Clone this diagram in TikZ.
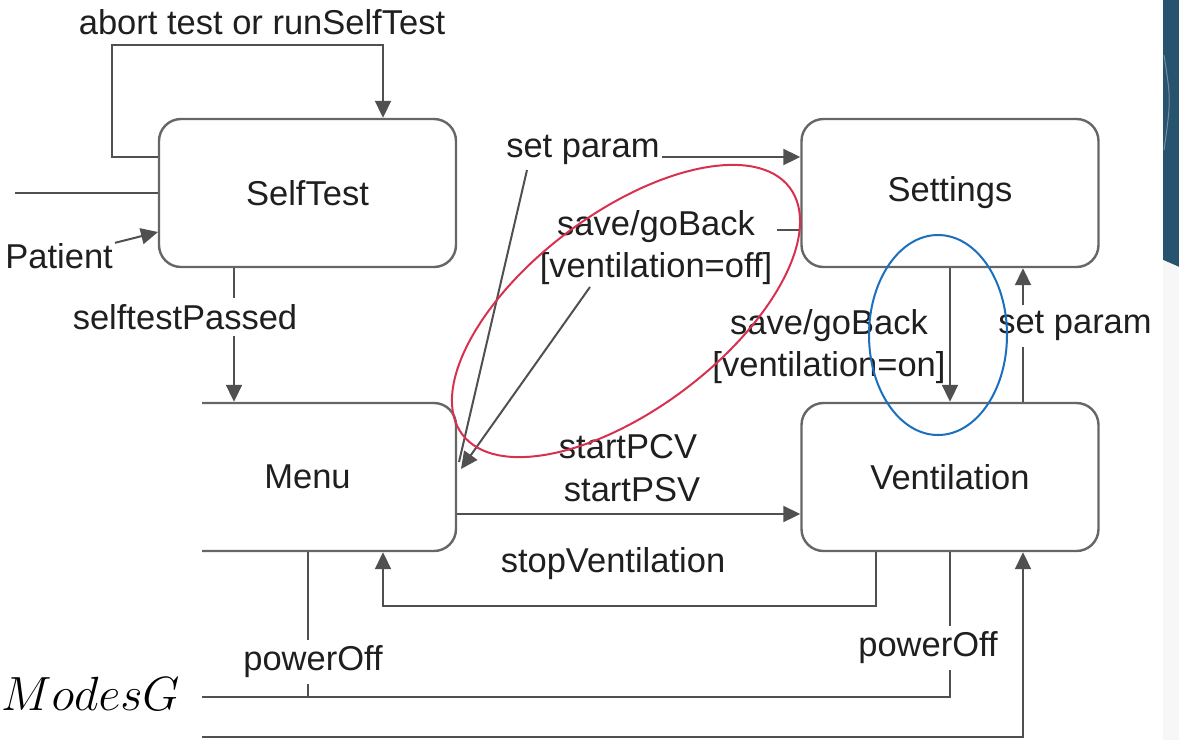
\RequirePackage{fix-cm}
\documentclass[tikz,border=0pt]{standalone}
\usepackage{fontspec}
\setmainfont{Liberation Sans}
\usetikzlibrary{arrows.meta,calc}
\definecolor{ink}{HTML}{1F1F1F}
\definecolor{edge}{HTML}{505050}
\definecolor{boxline}{HTML}{666666}
\definecolor{redring}{HTML}{D8314F}
\definecolor{bluering}{HTML}{1A6FBE}
\definecolor{slide}{HTML}{27536F}
\definecolor{slidegray}{HTML}{F7F7F7}
\begin{document}
\begin{tikzpicture}[x=1pt,y=-1pt,
  state/.style={draw=boxline,line width=2.4pt,fill=white,rounded corners=22pt,
    minimum width=297pt,minimum height=148pt,
    font=\fontsize{34.5}{42}\selectfont,text=ink},
  lbl/.style={font=\fontsize{34.5}{42}\selectfont,text=ink,inner xsep=3pt,inner ysep=6pt,align=center},
  wire/.style={draw=edge,line width=2pt},
  flow/.style={wire,-{Triangle[length=17pt,width=16pt]}},
]
\useasboundingbox (0,0) rectangle (1179,740);
\clip (0,0) rectangle (1179,740);

% slide decoration at the right edge
\fill[slide] (1163,0) -- (1179,0) -- (1179,267) -- (1163,260) -- cycle;
\fill[slidegray] (1163,260) -- (1179,267) -- (1179,740) -- (1163,740) -- cycle;
\draw[white,opacity=0.35,line width=1pt] (1164,55) .. controls (1171,100) .. (1164,150);

% states
\node[state] (selftest) at (307.5,193) {SelfTest};
\node[state] (settings) at (950,193) {Settings};
\node[state] (vent) at (950,477) {Ventilation};
\begin{scope}
  \clip (202,380) rectangle (600,600);
  \node[state] (menu) at (307.5,477) {Menu};
\end{scope}

% self loop on SelfTest
\coordinate (loopL) at (112,157);
\coordinate (loopR) at (383,45);
\draw[flow] (selftest.west |- loopL) -- (loopL) |- (loopR) -- (loopR |- selftest.north);
\node[lbl] (abortlbl) at (262,22) {abort test or runSelfTest};

% incoming lines on the left
\coordinate (entry) at (15,193);
\draw[wire] (entry) -- (selftest.west);
\node[lbl,anchor=base east,inner sep=0pt] (patient) at (113,268) {Patient};
\coordinate (patIn) at (158,232);
\draw[flow] ($(patient.north east)+(2,0)$) -- (patIn);

% SelfTest -> Menu
\coordinate (spx) at (234,0);
\draw[flow] (selftest.south -| spx) -- (menu.north -| spx);
\node[lbl,fill=white] (passlbl) at (185,317) {selftestPassed};

% Menu -> Settings
\node[lbl] (setp1) at (583,150) {set param};
\coordinate (menuSP) at (459,462);
\coordinate (spA) at (527,170);
\coordinate (spB) at (662,157);
\draw[wire] (menuSP) -- (spA);
\draw[flow] (spB) -- (settings.west |- spB);

% Settings -> Menu
\node[lbl] (sgboff) at (656,248) {save/goBack\\{}[ventilation=off]};
\coordinate (offStub) at (777,230);
\coordinate (offA) at (590,287);
\coordinate (menuIn) at (461,469);
\draw[wire] (settings.west |- offStub) -- (offStub);
\draw[flow] (offA) -- (menuIn);

% Menu -> Ventilation
\coordinate (py) at (0,514);
\draw[flow] (menu.east |- py) -- (vent.west |- py);
\node[lbl] (pcv) at (628,447) {startPCV};
\node[lbl] (psv) at (632,490) {startPSV};

% Ventilation -> Menu
\coordinate (svA) at (876,606);
\coordinate (svB) at (383,606);
\draw[flow] (vent.south -| svA) -- (svA) -- (svB) -- (menu.south -| svB);
\node[lbl] (stoplbl) at (613,564) {stopVentilation};

% Settings -> Ventilation
\draw[flow] (settings.south) -- (vent.north);
\node[lbl] (sgbon) at (829,347) {save/goBack\\{}[ventilation=on]};

% Ventilation -> Settings
\coordinate (rx) at (1023,0);
\draw[flow] (vent.north -| rx) -- (settings.south -| rx);
\node[lbl,fill=white] (setp2) at (1075,326) {set param};

% powerOff transitions
\coordinate (mpx) at (308,0);
\coordinate (botA) at (202,697);
\coordinate (vpx) at (950,697);
\draw[wire] (menu.south -| mpx) -- (mpx |- botA);
\draw[wire] (botA) -- (vpx) -- (vent.south);
\node[lbl,fill=white] (po1) at (313,662) {powerOff};
\node[lbl,fill=white] (po2) at (928,648) {powerOff};

% entry into Ventilation from below
\coordinate (botB) at (202,737);
\coordinate (bx) at (1023,737);
\draw[flow] (botB) -- (bx) -- (vent.south -| bx);

% group name
\node[font=\fontsize{48}{48}\selectfont,anchor=base west,inner sep=0pt,text=black] (modes) at (1,710) {$ModesG$};

% highlight rings
\draw[redring,line width=2pt,rotate around={37:(626,311)}] (626,311) ellipse [x radius=205pt,y radius=98pt];
\draw[bluering,line width=2pt] (938,335) ellipse [x radius=69pt,y radius=100pt];
\end{tikzpicture}
\end{document}
